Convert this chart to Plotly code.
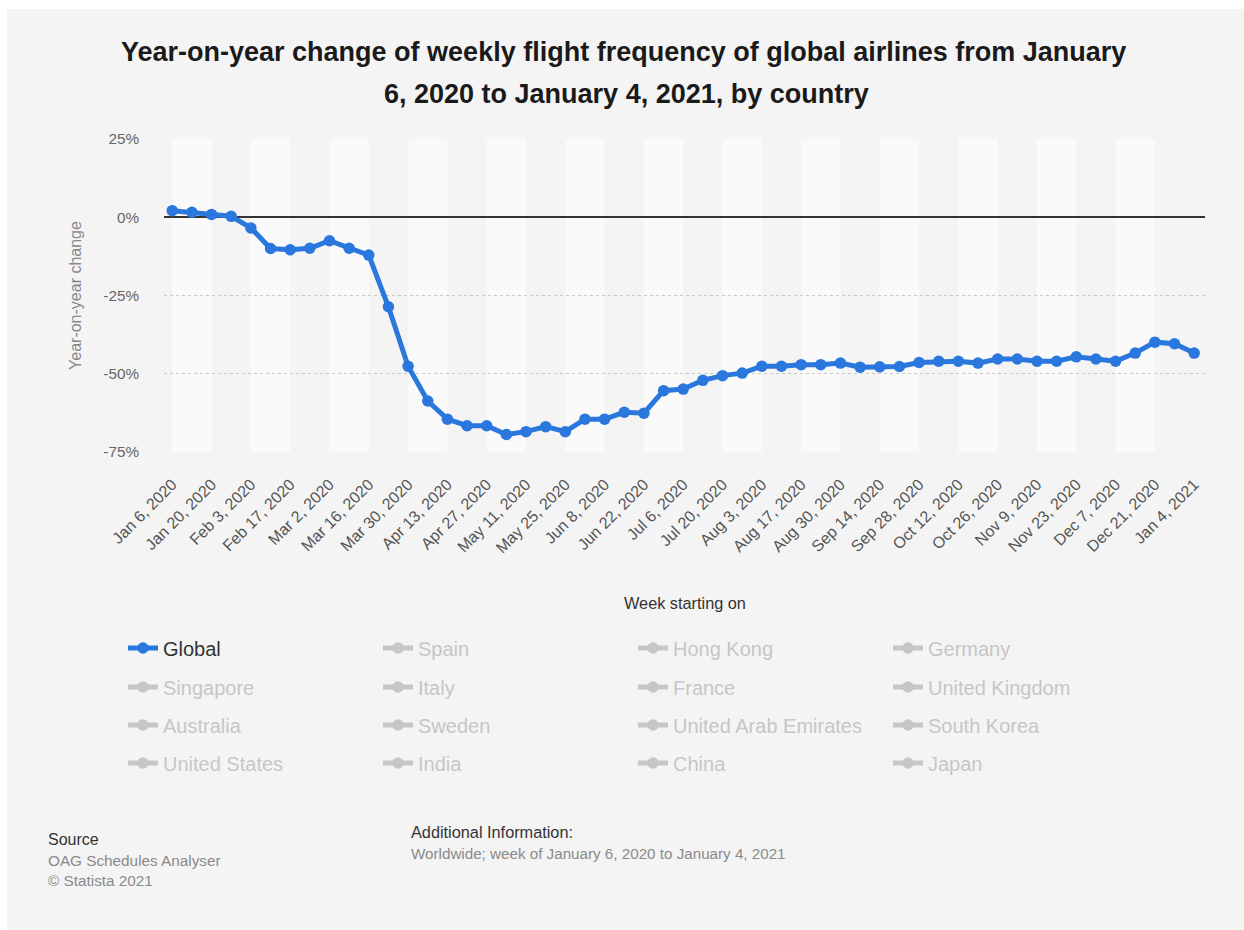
import plotly.graph_objects as go

# Week-starting dates (category axis)
weeks = [
    "Jan 6, 2020", "Jan 13, 2020", "Jan 20, 2020", "Jan 27, 2020",
    "Feb 3, 2020", "Feb 10, 2020", "Feb 17, 2020", "Feb 24, 2020",
    "Mar 2, 2020", "Mar 9, 2020", "Mar 16, 2020", "Mar 23, 2020", "Mar 30, 2020",
    "Apr 6, 2020", "Apr 13, 2020", "Apr 20, 2020", "Apr 27, 2020",
    "May 4, 2020", "May 11, 2020", "May 18, 2020", "May 25, 2020",
    "Jun 1, 2020", "Jun 8, 2020", "Jun 15, 2020", "Jun 22, 2020", "Jun 29, 2020",
    "Jul 6, 2020", "Jul 13, 2020", "Jul 20, 2020", "Jul 27, 2020",
    "Aug 3, 2020", "Aug 10, 2020", "Aug 17, 2020", "Aug 24, 2020", "Aug 30, 2020",
    "Sep 7, 2020", "Sep 14, 2020", "Sep 21, 2020", "Sep 28, 2020",
    "Oct 5, 2020", "Oct 12, 2020", "Oct 19, 2020", "Oct 26, 2020",
    "Nov 2, 2020", "Nov 9, 2020", "Nov 16, 2020", "Nov 23, 2020", "Nov 30, 2020",
    "Dec 7, 2020", "Dec 14, 2020", "Dec 21, 2020", "Dec 28, 2020",
    "Jan 4, 2021",
]

# Year-on-year change of weekly flight frequency, global (%)
global_change = [
    2.1, 1.6, 0.9, 0.3,
    -3.4, -10.0, -10.4, -9.9,
    -7.5, -9.9, -12.1, -28.6, -47.6,
    -58.7, -64.5, -66.6, -66.6,
    -69.4, -68.5, -66.9, -68.5,
    -64.5, -64.5, -62.3, -62.6, -55.4,
    -54.9, -52.1, -50.6, -49.8,
    -47.6, -47.6, -47.1, -47.1, -46.6,
    -47.9, -47.8, -47.7, -46.4,
    -46.0, -46.0, -46.6, -45.3,
    -45.3, -46.0, -46.0, -44.6, -45.3,
    -46.0, -43.4, -39.9, -40.4,
    -43.4,
]

# Legend rows: the global series followed by the countries (switched off)
legend_rows = [
    ["Global", "Spain", "Hong Kong", "Germany"],
    ["Singapore", "Italy", "France", "United Kingdom"],
    ["Australia", "Sweden", "United Arab Emirates", "South Korea"],
    ["United States", "India", "China", "Japan"],
]

tick_labels = weeks[::2]
y_ticks = [25, 0, -25, -50, -75]
y_tick_text = ["25%", "0%", "-25%", "-50%", "-75%"]

FONT = "Liberation Sans, Arial, Helvetica, sans-serif"
BLUE = "#2a77de"
OFF = "#9a9a9a"
BG = "#f4f4f4"

W, H = 1244, 930
L, R, T, B = 164, 39, 139, 478
PW, PH = W - L - R, H - T - B


def px(x):
    return (x - L) / PW


def py(y):
    return (H - B - y) / PH


fig = go.Figure()

legend_ids = ["legend", "legend2", "legend3", "legend4"]
for row, lid in zip(legend_rows, legend_ids):
    for name in row:
        if name == "Global":
            fig.add_trace(go.Scatter(
                x=weeks, y=global_change,
                name="<span style='color:#333333'>Global</span>",
                mode="lines+markers", legend=lid,
                line=dict(color=BLUE, width=5),
                marker=dict(color=BLUE, size=11.5),
            ))
        else:
            fig.add_trace(go.Scatter(
                x=[weeks[0]], y=[None], name=name, mode="lines+markers",
                visible="legendonly", legend=lid,
                line=dict(color=OFF, width=5),
                marker=dict(color=OFF, size=11.5),
            ))

shapes = [
    # page panel
    dict(type="rect", xref="paper", yref="paper",
         x0=px(7), x1=px(W + 5), y0=py(H + 5), y1=py(9),
         fillcolor=BG, line=dict(width=0), layer="below"),
]
# alternating column bands
for i in range(0, len(weeks) - 2, 4):
    shapes.append(dict(type="rect", xref="x", yref="paper",
                       x0=i, x1=i + 2, y0=0, y1=1,
                       fillcolor="#fafafa", line=dict(width=0), layer="below"))


def note(text, x, y, size, color, anchor="left"):
    return dict(text=text, x=px(x), y=py(y), xref="paper", yref="paper",
                showarrow=False, xanchor=anchor, yanchor="middle",
                font=dict(size=size, color=color, family=FONT))


annotations = [
    note("<b>Year-on-year change of weekly flight frequency of global airlines from January</b>",
         623, 52, 27, "#1a1a1a", "center"),
    note("<b>6, 2020 to January 4, 2021, by country</b>", 626, 94, 27, "#1a1a1a", "center"),
    note("Week starting on", 685, 603, 16.3, "#333333", "center"),
    note("Source", 46, 840, 16, "#333333"),
    note("OAG Schedules Analyser", 46, 860, 15.3, "#8a8a8a"),
    note("© Statista 2021", 46, 880, 15.3, "#8a8a8a"),
    note("Additional Information:", 409, 832, 16.3, "#333333"),
    note("Worldwide; week of January 6, 2020 to January 4, 2021", 409, 853, 15.2, "#8a8a8a"),
]

row_centers = [648, 687, 725, 763]
legend_style = dict(
    orientation="h", xanchor="left", yanchor="middle",
    entrywidth=210, entrywidthmode="pixels", itemwidth=30,
    font=dict(size=20, color="#999999", family=FONT),
    bgcolor="rgba(0,0,0,0)", traceorder="normal",
)
legends = {lid: dict(legend_style, x=px(123), y=py(yc))
           for lid, yc in zip(legend_ids, row_centers)}

fig.update_layout(
    width=W, height=H,
    margin=dict(l=L, r=R, t=T, b=B, autoexpand=False),
    paper_bgcolor="white",
    plot_bgcolor=BG,
    font=dict(family=FONT, color="#555555"),
    shapes=shapes,
    annotations=annotations,
    showlegend=True,
    hovermode="closest",
    **legends,
)

fig.update_xaxes(
    type="category", categoryorder="array", categoryarray=weeks,
    range=[-0.42, 52.55],
    tickmode="array", tickvals=tick_labels, ticktext=tick_labels,
    tickangle=-45, tickfont=dict(size=16, color="#555555", family=FONT),
    showgrid=False, showline=False, zeroline=False, ticks="",
    ticklabelstandoff=19,
)

fig.update_yaxes(
    range=[-75, 25],
    tickmode="array", tickvals=y_ticks, ticktext=y_tick_text,
    tickfont=dict(size=15.3, color="#666666", family=FONT),
    showgrid=True, gridcolor="#c8c8c8", griddash="dot", gridwidth=1,
    zeroline=True, zerolinecolor="#333333", zerolinewidth=1.5,
    showline=False, ticks="", ticklabelstandoff=24,
    title=dict(text="Year-on-year change", font=dict(size=16, color="#888888", family=FONT),
               standoff=17),
)

fig.write_html("out.html")
